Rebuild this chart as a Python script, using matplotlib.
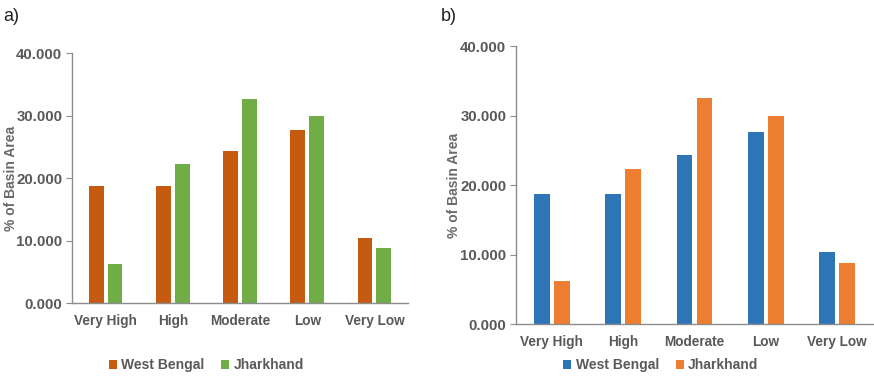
import numpy as np
import matplotlib
matplotlib.use("Agg")
import matplotlib.pyplot as plt
from matplotlib.patches import Patch

categories = ["Very High", "High", "Moderate", "Low", "Very Low"]
west_bengal = [18.7, 18.8, 24.3, 27.7, 10.4]
jharkhand = [6.2, 22.3, 32.6, 30.0, 8.8]
series_names = ["West Bengal", "Jharkhand"]
yticks = [0, 10, 20, 30, 40]
ytick_labels = ["0.000", "10.000", "20.000", "30.000", "40.000"]

plt.rcParams['font.family'] = ['Liberation Sans', 'DejaVu Sans']
TXT = "#595959"
AX = "#8c8c8c"

fig = plt.figure(figsize=(8.74, 3.76), dpi=100)

def panel(rect, c1, c2, label, lab_xy, leg_xy, ylab_x):
    ax = fig.add_axes(rect)
    x = np.arange(len(categories))
    w = 0.22
    off = 0.14
    ax.bar(x - off, west_bengal, w, color=c1)
    ax.bar(x + off, jharkhand, w, color=c2)
    ax.set_xlim(-0.5, 4.5)
    ax.set_ylim(0, 40)
    ax.set_yticks(yticks)
    ax.set_yticklabels(ytick_labels, fontsize=10.8, fontweight='bold', color=TXT)
    ax.set_xticks(x)
    ax.set_xticklabels(categories, fontsize=9.8, fontweight='bold', color=TXT)
    ax.tick_params(axis='x', length=0, pad=8)
    ax.tick_params(axis='y', length=4, width=0.8, color=AX, direction='out', pad=3)
    for s in ['top', 'right']:
        ax.spines[s].set_visible(False)
    for s in ['left', 'bottom']:
        ax.spines[s].set_color(AX)
        ax.spines[s].set_linewidth(1.0)
    fig.text(ylab_x, rect[1] + rect[3] / 2, "% of Basin Area", rotation=90,
             fontsize=10, fontweight='bold', color="#6a6a6a", ha='center', va='center')
    fig.text(lab_xy[0], lab_xy[1], label, fontsize=13, color="#222222", ha='left', va='center')
    handles = [Patch(facecolor=c1, label=series_names[0]), Patch(facecolor=c2, label=series_names[1])]
    leg = fig.legend(handles=handles, loc='center', bbox_to_anchor=leg_xy, ncol=2, frameon=False,
                     handlelength=0.6, handleheight=0.6, handletextpad=0.3, columnspacing=1.2,
                     prop={'size': 10, 'weight': 'bold'})
    for t in leg.get_texts():
        t.set_color(TXT)
    return ax

panel([0.0824, 0.194, 0.3844, 0.665], "#C55A11", "#70AD47", "a)", (0.004, 0.955), (0.236, 0.029), 0.013)
panel([0.5904, 0.1375, 0.4085, 0.740], "#2E75B6", "#ED7D31", "b)", (0.504, 0.955), (0.756, 0.029), 0.519)

fig.savefig("out.png", dpi=100)
